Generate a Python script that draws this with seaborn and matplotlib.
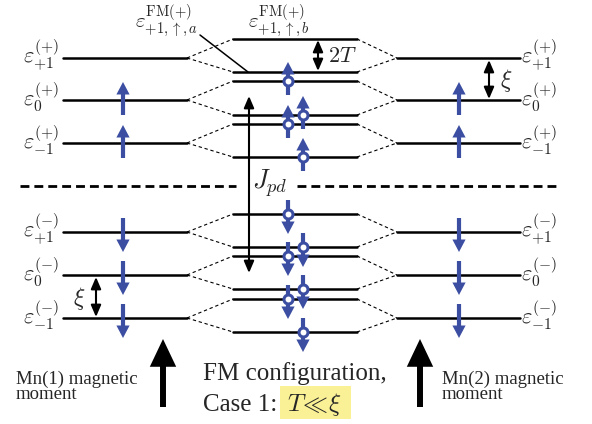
import numpy as np
import pandas as pd
import matplotlib
matplotlib.use("Agg")
import matplotlib.pyplot as plt
from matplotlib.patches import Rectangle
import seaborn as sns

# energy levels (diagram units, top = 0)
side_levels = [58, 100, 143, 232, 275, 318]
side_spins = [0, 1, 1, -1, -1, -1]
side_labels = [r"$\varepsilon_{+1}^{(+)}$", r"$\varepsilon_{0}^{(+)}$", r"$\varepsilon_{-1}^{(+)}$",
               r"$\varepsilon_{+1}^{(-)}$", r"$\varepsilon_{0}^{(-)}$", r"$\varepsilon_{-1}^{(-)}$"]
mid_levels = [39, 72, 81, 115, 124, 157, 214, 247, 256, 289, 299, 332]
mid_spins = [0, 0, 1, 1, 1, 1, -1, -1, -1, -1, -1, -1]
mid_cols = ["", "", "a", "b", "a", "b", "a", "b", "a", "b", "a", "b"]

BLUE = "#3B4EA2"
LEFT = (63, 187)
MID = (233, 357)
RIGHT = (397, 520)
COLX = {"a": 288, "b": 303}

sns.set_style("white")
plt.rcParams["font.family"] = ["Liberation Serif", "DejaVu Serif"]
plt.rcParams["mathtext.fontset"] = "cm"

fig = plt.figure(figsize=(5.92, 4.24), dpi=100)
ax = fig.add_axes([0, 0, 1, 1])

# level segments
rows = []
k = 0
for y in side_levels:
    for x0, x1 in (LEFT, RIGHT):
        rows += [(k, x0, y), (k, x1, y)]
        k += 1
for y in mid_levels:
    rows += [(k, MID[0], y), (k, MID[1], y)]
    k += 1
lev = pd.DataFrame(rows, columns=["seg", "x", "y"])
sns.lineplot(data=lev, x="x", y="y", units="seg", estimator=None, sort=False,
             color="black", lw=1.8, ax=ax)

# dashed connectors
rows = []
k = 0
for i, y in enumerate(side_levels):
    for j in (2 * i, 2 * i + 1):
        ym = mid_levels[j]
        rows += [(k, LEFT[1], y), (k, MID[0], ym)]
        k += 1
        rows += [(k, MID[1], ym), (k, RIGHT[0], y)]
        k += 1
con = pd.DataFrame(rows, columns=["seg", "x", "y"])
sns.lineplot(data=con, x="x", y="y", units="seg", estimator=None, sort=False,
             color="black", lw=0.8, linestyle=(0, (3, 2.5)), ax=ax)

# separator
ax.plot([20, 236], [186, 186], color="black", lw=2, linestyle=(0, (3.2, 1.8)))
ax.plot([297, 557], [186, 186], color="black", lw=2, linestyle=(0, (3.2, 1.8)))


def spin(x, y0, y1, scale=10, tw=0.3, hw=0.95, hl=0.9, color=BLUE):
    ax.annotate("", xy=(x, y1), xytext=(x, y0),
                arrowprops=dict(arrowstyle=f"simple,tail_width={tw},head_width={hw},head_length={hl}",
                                color=color, lw=0, shrinkA=0, shrinkB=0, mutation_scale=scale))


def dbl(x, y0, y1):
    ax.annotate("", xy=(x, y1), xytext=(x, y0),
                arrowprops=dict(arrowstyle="<|-|>,head_length=0.7,head_width=0.3",
                                color="black", lw=1.5, shrinkA=0, shrinkB=0, mutation_scale=10))


# localized Mn spins
for y, s in zip(side_levels, side_spins):
    for x in (123, 459):
        if s > 0:
            spin(x, y + 15, y - 18)
        elif s < 0:
            spin(x, y - 14, y + 20)

# itinerant spins
cx, cy = [], []
for y, s, c in zip(mid_levels, mid_spins, mid_cols):
    if s == 0:
        continue
    x = COLX[c]
    if s > 0:
        spin(x, y + 14, y - 19)
    else:
        spin(x, y - 14, y + 20)
    cx.append(x)
    cy.append(y)
sns.scatterplot(x=cx, y=cy, s=42, color="white", edgecolor=BLUE, linewidth=2.2, zorder=5, ax=ax)

# level labels
for y, lab in zip(side_levels, side_labels):
    ax.text(59, y - 3, lab, fontsize=16, ha="right", va="center")
    ax.text(521, y - 3, lab, fontsize=16, ha="left", va="center")

ax.text(167, 21, r"$\varepsilon^{\rm FM(+)}_{+1,\uparrow,a}$", fontsize=15, ha="center", va="center")
ax.text(279, 21, r"$\varepsilon^{\rm FM(+)}_{+1,\uparrow,b}$", fontsize=15, ha="center", va="center")
ax.plot([200, 248], [35, 72], color="black", lw=1.1)

# gaps
dbl(318, 40, 71)
ax.text(328, 57, r"$2T$", fontsize=16, ha="left", va="center")
dbl(489, 60, 99)
ax.text(506, 80, r"$\xi$", fontsize=17, ha="center", va="center")
dbl(96, 277, 317)
ax.text(79, 299, r"$\xi$", fontsize=17, ha="center", va="center")
dbl(249, 96, 273)
ax.text(252, 183, r"$J_{pd}$", fontsize=19, ha="left", va="center")

# Mn moments
spin(163, 407, 339, scale=10, tw=0.43, hw=1.9, hl=2.0, color="black")
spin(420, 407, 339, scale=10, tw=0.43, hw=1.9, hl=2.0, color="black")
ax.text(16, 371, "Mn(1) magnetic\nmoment", fontsize=13.5, ha="left", va="top", linespacing=0.85)
ax.text(442, 371, "Mn(2) magnetic\nmoment", fontsize=13.5, ha="left", va="top", linespacing=0.85)

ax.text(203, 380, "FM configuration,", fontsize=18, ha="left", va="baseline")
ax.text(203, 411, "Case 1:", fontsize=18, ha="left", va="baseline")
ax.add_patch(Rectangle((280, 386), 71, 33, color="#FAF096", lw=0, zorder=0))
ax.text(287, 411, r"$T\!\ll\!\xi$", fontsize=18, ha="left", va="baseline")

ax.set_xlim(0, 592)
ax.set_ylim(424, 0)
ax.axis("off")
fig.savefig("out.png", dpi=100, facecolor="white")
